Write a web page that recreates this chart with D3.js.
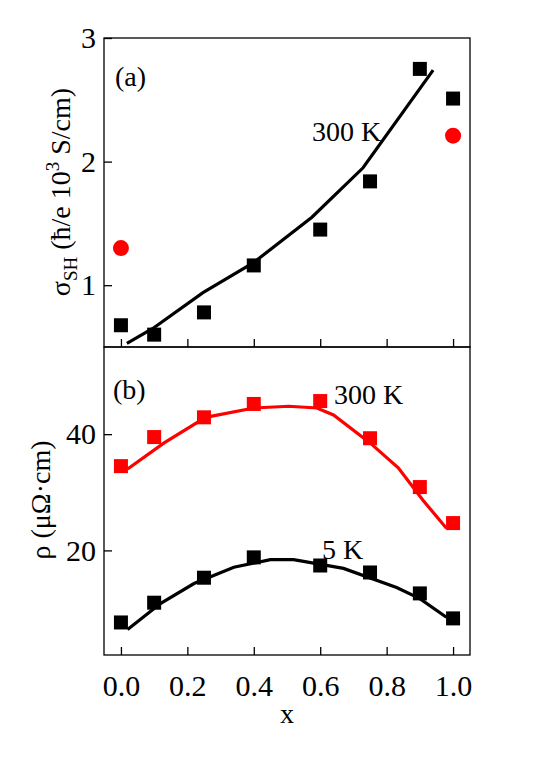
<!DOCTYPE html><html><head><meta charset="utf-8"><script src="https://d3js.org/d3.v7.min.js"></script>
<style>body{margin:0;background:#fff}text{font-family:"Liberation Serif","Times New Roman",serif}</style></head><body>
<svg id="c" width="545" height="771"></svg>
<script>
const xVals=[0,0.1,0.25,0.4,0.6,0.75,0.9,1.0];
const sigma300=[0.676,0.60,0.78,1.16,1.45,1.84,2.75,2.51];
const sigmaRedX=[0,1.0], sigmaRed=[1.30,2.21];
const sigmaLineX=[0.018,0.096,0.247,0.398,0.575,0.729,0.94];
const sigmaLine=[0.53,0.65,0.94,1.18,1.55,1.95,2.74];
const rho300=[34.5,39.5,42.9,45.2,45.7,39.3,30.9,24.7];
const rho300LineX=[0.02,0.13,0.255,0.4,0.505,0.59,0.64,0.75,0.835,0.91,0.98];
const rho300Line=[34.0,38.5,42.9,44.5,44.8,44.5,43.3,38.5,34.2,28.6,23.8];
const rho5=[7.6,11.0,15.3,18.8,17.4,16.2,12.6,8.3];
const rho5LineX=[0.02,0.12,0.22,0.34,0.45,0.52,0.67,0.83,0.9,0.98];
const rho5Line=[6.4,10.9,14.3,17.1,18.4,18.4,16.9,13.6,11.7,8.5];
const xTicks=[0,0.2,0.4,0.6,0.8,1.0];

const svg=d3.select("#c");
const L=104,R=470,T1=38,B1=347,T2=347,B2=655;
const x=d3.scaleLinear().domain([-0.051,1.051]).range([L,R]);
const y1=d3.scaleLinear().domain([0.5,3]).range([B1,T1]);
const y2=d3.scaleLinear().domain([2,55]).range([B2,T2]);
const fs=30, fl=28;
function panel(y,top,bot,yt){
  svg.append("rect").attr("x",L).attr("y",top).attr("width",R-L).attr("height",bot-top).attr("fill","none").attr("stroke","#000").attr("stroke-width",1.3);
  const ax=svg.append("g").attr("font-family",null).attr("transform",`translate(0,${bot})`).call(d3.axisBottom(x).tickValues(xTicks).tickSizeInner(-8).tickSizeOuter(0).tickFormat(d3.format(".1f")));
  ax.attr("font-family","Liberation Serif").attr("font-size",fs);
  ax.select(".domain").remove();ax.selectAll("line").attr("stroke-width",1.3);
  ax.selectAll("text").attr("y",20).attr("dy","0.71em");
  const ay=svg.append("g").attr("transform",`translate(${L},0)`).call(d3.axisLeft(y).tickValues(yt).tickSizeInner(-8).tickSizeOuter(0).tickFormat(d3.format("d")));
  ay.attr("font-family","Liberation Serif").attr("font-size",fs);
  ay.select(".domain").remove();ay.selectAll("line").attr("stroke-width",1.3);
  ay.selectAll("text").attr("x",-8);
  return ax;
}
const ax1=panel(y1,T1,B1,[1,2,3]); ax1.selectAll("text").remove();
const ax2=panel(y2,T2,B2,[20,40]);
function line(xs,ys,y,col){
  svg.append("path").datum(xs.map((d,i)=>[d,ys[i]])).attr("fill","none").attr("stroke",col).attr("stroke-width",3.2)
   .attr("d",d3.line().x(d=>x(d[0])).y(d=>y(d[1])));
}
function squares(xs,ys,y,col){
  svg.append("g").selectAll("rect").data(xs.map((d,i)=>[d,ys[i]])).join("rect")
   .attr("x",d=>x(d[0])-7).attr("y",d=>y(d[1])-7).attr("width",14).attr("height",14).attr("fill",col);
}
line(sigmaLineX,sigmaLine,y1,"#000");
squares(xVals,sigma300,y1,"#000");
svg.append("g").selectAll("circle").data(sigmaRedX.map((d,i)=>[d,sigmaRed[i]])).join("circle")
 .attr("cx",d=>x(d[0])).attr("cy",d=>y1(d[1])).attr("r",8).attr("fill","#f00");
line(rho300LineX,rho300Line,y2,"#f00");
squares(xVals,rho300,y2,"#f00");
line(rho5LineX,rho5Line,y2,"#000");
squares(xVals,rho5,y2,"#000");

const t=(px,py,s)=>svg.append("text").attr("x",px).attr("y",py).attr("font-size",fl).text(s);
t(115,86,"(a)");t(312,141,"300 K");
t(113,399,"(b)");t(334,404,"300 K");t(322,559,"5 K");
svg.append("text").attr("x",x(0.5)).attr("y",723).attr("text-anchor","middle").attr("font-size",fl).text("x");
const yl1=svg.append("text").attr("transform","translate(70,192) rotate(-90)").attr("text-anchor","middle").attr("font-size",fl);
yl1.append("tspan").text("σ");
yl1.append("tspan").attr("font-size",19).attr("dy",7).text("SH");
yl1.append("tspan").attr("dy",-7).text(" (ħ/e 10");
yl1.append("tspan").attr("font-size",19).attr("dy",-11).text("3");
yl1.append("tspan").attr("dy",11).text(" S/cm)");
svg.append("text").attr("transform","translate(50,500) rotate(-90)").attr("text-anchor","middle").attr("font-size",fl).text("ρ (μΩ·cm)");
</script></body></html>
